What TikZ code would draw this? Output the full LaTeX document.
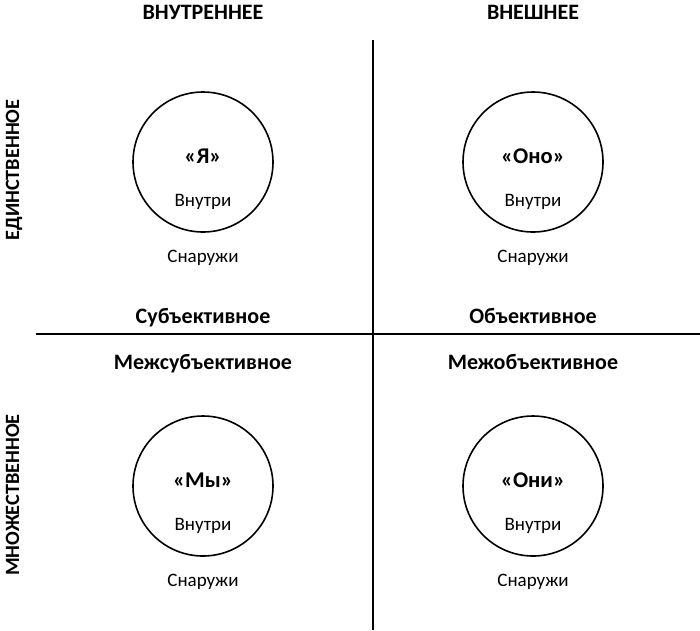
\documentclass[tikz,border=0pt]{standalone}
\usepackage{fontspec}
\setmainfont{Carlito}
\begin{document}
\begin{tikzpicture}[x=1pt,y=-1pt,
  circ/.style={draw,line width=1.6pt,circle,minimum size=140pt,inner sep=0pt},
  head/.style={anchor=base,inner sep=0pt,font=\bfseries\fontsize{22}{26}\selectfont},
  side/.style={anchor=base,inner sep=0pt,rotate=90,font=\bfseries\fontsize{20.3}{24}\selectfont},
  lbl/.style={anchor=base,inner sep=0pt,font=\bfseries\fontsize{22}{26}\selectfont},
  who/.style={anchor=base,inner sep=0pt,font=\bfseries\fontsize{22.5}{26}\selectfont},
  txt/.style={anchor=base,inner sep=0pt,font=\fontsize{19}{22}\selectfont}]
\useasboundingbox (0,0) rectangle (700,630);
\coordinate (hl) at (36,334);
\coordinate (hr) at (700,334);
\coordinate (vt) at (373,40);
\coordinate (vb) at (373,630);
\draw[line width=1.6pt] (hl) -- (hr);
\draw[line width=1.6pt] (vt) -- (vb);
\node[head] (h1) at (203,19) {ВНУТРЕННЕЕ};
\node[head] (h2) at (533,19) {ВНЕШНЕЕ};
\node[side] (v1) at (19,170) {ЕДИНСТВЕННОЕ};
\node[side] (v2) at (19,495) {МНОЖЕСТВЕННОЕ};
\node[lbl] (l1) at (203,323) {Субъективное};
\node[lbl] (l2) at (533,323) {Объективное};
\node[lbl] (l3) at (203,369) {Межсубъективное};
\node[lbl] (l4) at (533,369) {Межобъективное};
\node[circ] (c1) at (203,162) {};
\node[circ] (c2) at (533,162) {};
\node[circ] (c3) at (203,486) {};
\node[circ] (c4) at (533,486) {};
\node[who] (w1) at (203,163) {«Я»};
\node[who] (w2) at (533,163) {«Оно»};
\node[who] (w3) at (203,487) {«Мы»};
\node[who] (w4) at (533,487) {«Они»};
\node[txt] (i1) at (203,206) {Внутри};
\node[txt] (i2) at (533,206) {Внутри};
\node[txt] (i3) at (203,530) {Внутри};
\node[txt] (i4) at (533,530) {Внутри};
\node[txt] (o1) at (203,262) {Снаружи};
\node[txt] (o2) at (533,262) {Снаружи};
\node[txt] (o3) at (203,586) {Снаружи};
\node[txt] (o4) at (533,586) {Снаружи};
\end{tikzpicture}
\end{document}
